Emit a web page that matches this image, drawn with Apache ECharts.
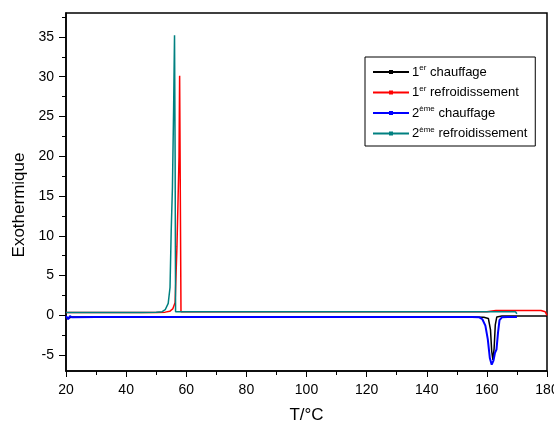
<!DOCTYPE html>
<html>
<head>
<meta charset="utf-8">
<script src="https://cdn.jsdelivr.net/npm/echarts@6/dist/echarts.min.js"></script>
<style>
  html, body { margin: 0; padding: 0; background: #fff; }
  #chart { width: 554px; height: 425px; }
</style>
</head>
<body>
<div id="chart"></div>
<script>
// DSC traces: temperature (°C) and heat flow for each run
const tHeat1 = [20, 20.6, 21.2, 22, 30, 40, 60, 80, 100, 120, 140, 155, 159, 160.5, 161.2, 161.6, 162, 162.4, 162.8, 163.3, 165, 170, 175, 180];
const vHeat1 = [-0.1, -0.4, -0.15, -0.2, -0.2, -0.2, -0.2, -0.2, -0.2, -0.2, -0.2, -0.2, -0.25, -0.4, -1.8, -4.5, -5.6, -4.2, -1.2, -0.2, -0.1, -0.1, -0.1, -0.1];

const tCool1 = [20, 30, 37.3, 37.7, 38.1, 45, 50, 53, 54.5, 55.5, 56.3, 56.9, 57.2, 57.6, 57.8, 58.1, 58.25, 60, 80, 100, 120, 140, 160, 163, 170, 178, 179.4, 180];
const vCool1 = [0.35, 0.35, 0.35, 0.6, 0.35, 0.35, 0.36, 0.4, 0.5, 0.8, 1.6, 8.6, 13.3, 20, 30.1, 30, 0.45, 0.45, 0.45, 0.45, 0.45, 0.45, 0.45, 0.6, 0.6, 0.6, 0.45, 0];

const tHeat2 = [20, 20.7, 21.3, 22, 30, 40, 60, 80, 100, 120, 140, 155, 157.5, 158.5, 159.5, 160.3, 161, 161.6, 162.2, 162.7, 163.2, 163.7, 164.2, 165, 167, 170];
const vHeat2 = [-0.1, -0.5, -0.1, -0.25, -0.2, -0.2, -0.2, -0.2, -0.2, -0.2, -0.2, -0.2, -0.25, -0.5, -1.3, -3, -5.4, -6.2, -5.7, -4.7, -4.3, -2.2, -0.6, -0.25, -0.2, -0.2];

const tCool2 = [20, 30, 37.4, 37.8, 38.2, 45, 50, 52, 53, 54, 54.6, 55, 55.4, 55.8, 56.1, 56.3, 56.45, 57, 60, 80, 100, 120, 140, 160, 165, 169.5, 170];
const vCool2 = [0.35, 0.35, 0.35, 0.55, 0.35, 0.35, 0.38, 0.45, 0.7, 1.5, 3.5, 10.7, 16, 26, 35.2, 20, 0.45, 0.45, 0.45, 0.45, 0.45, 0.45, 0.45, 0.45, 0.45, 0.45, 0.2];

const seriesNames = ['1er chauffage', '1er refroidissement', '2ème chauffage', '2ème refroidissement'];
const seriesColors = ['#000000', '#ff0000', '#0000ff', '#008080'];

const xTicks = [20, 40, 60, 80, 100, 120, 140, 160, 180];
const yTicks = [-5, 0, 5, 10, 15, 20, 25, 30, 35];
const yMinorTicks = [-2.5, 2.5, 7.5, 12.5, 17.5, 22.5, 27.5, 32.5, 37.5];

const pairs = (t, v) => t.map((x, i) => [x, v[i]]);
const traces = [pairs(tHeat1, vHeat1), pairs(tCool1, vCool1), pairs(tHeat2, vHeat2), pairs(tCool2, vCool2)];

const FONT = '"Liberation Sans", Arial, sans-serif';

const chart = echarts.init(document.getElementById('chart'), null, { renderer: 'canvas' });

chart.setOption({
  backgroundColor: '#fff',
  animation: false,
  textStyle: { fontFamily: FONT, color: '#000' },
  grid: {
    left: 66, right: 7, top: 13, bottom: 54,
    containLabel: false,
    outerBoundsMode: 'none',
    show: true, borderColor: '#000', borderWidth: 1.5, backgroundColor: 'transparent'
  },
  legend: {
    orient: 'vertical',
    left: 365, top: 57,
    width: 168,
    padding: [7, 8, 6, 7],
    itemGap: 6,
    itemWidth: 36,
    itemHeight: 5,
    backgroundColor: '#fff',
    borderColor: '#000',
    borderWidth: 1,
    data: seriesNames,
    formatter: name => {
      const m = name.match(/^(\d)(er|ème) (.*)$/);
      return m[1] + '{sup|' + m[2] + '} ' + m[3];
    },
    textStyle: {
      fontFamily: FONT, fontSize: 13, color: '#000', padding: [0, 0, 0, -2],
      rich: {
        sup: { fontFamily: FONT, fontSize: 8, color: '#000', verticalAlign: 'top', padding: [0, 0, 8, 0] }
      }
    }
  },
  xAxis: {
    type: 'value',
    min: 20, max: 180, interval: 20,
    name: 'T/°C',
    nameLocation: 'middle',
    nameGap: 36,
    nameTextStyle: { fontFamily: FONT, fontSize: 17, color: '#000' },
    axisLine: { onZero: false, lineStyle: { color: '#000', width: 1.5 } },
    axisTick: { length: 6, lineStyle: { color: '#000', width: 1 } },
    minorTick: { show: true, splitNumber: 2, length: 4, lineStyle: { color: '#000', width: 1 } },
    splitLine: { show: false },
    axisLabel: {
      fontFamily: FONT, fontSize: 14, color: '#000', margin: 12,
      customValues: xTicks
    }
  },
  yAxis: [
    {
      type: 'value',
      min: -7, max: 38,
      name: 'Exothermique',
      nameLocation: 'middle',
      nameGap: 38,
      nameTextStyle: { fontFamily: FONT, fontSize: 17, color: '#000', padding: [0, 26, 0, 0] },
      axisLine: { onZero: false, lineStyle: { color: '#000', width: 1.5 } },
      axisTick: { length: 7, customValues: yTicks, lineStyle: { color: '#000', width: 1 } },
      splitLine: { show: false },
      axisLabel: { fontFamily: FONT, fontSize: 14, color: '#000', margin: 12, customValues: yTicks }
    },
    {
      type: 'value',
      position: 'left',
      min: -7, max: 38,
      axisLine: { show: false },
      axisTick: { show: true, length: 4, customValues: yMinorTicks, lineStyle: { color: '#000', width: 1 } },
      axisLabel: { show: false, customValues: yMinorTicks },
      splitLine: { show: false }
    }
  ],
  series: traces.map((data, i) => ({
    name: seriesNames[i],
    type: 'line',
    data: data,
    yAxisIndex: 0,
    color: seriesColors[i],
    symbol: 'rect',
    symbolSize: 3,
    showSymbol: false,
    lineStyle: { color: seriesColors[i], width: i === 2 ? 2 : 1.5 },
    itemStyle: { color: seriesColors[i] },
    z: 2 + i
  }))
});
</script>
</body>
</html>
